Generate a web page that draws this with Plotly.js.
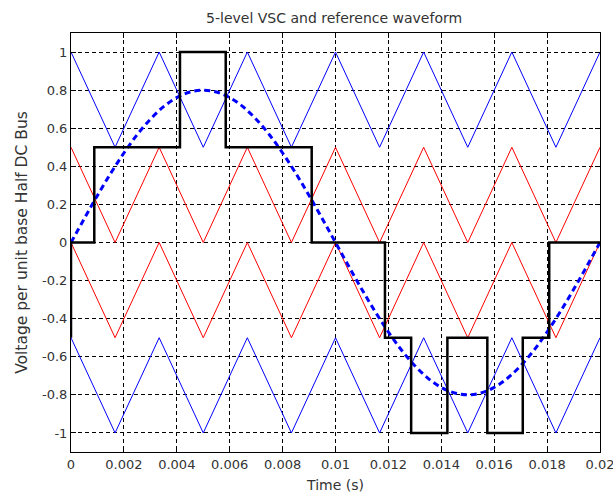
<!DOCTYPE html>
<html><head><meta charset="utf-8">
<script src="https://cdn.plot.ly/plotly-3.0.1.min.js"></script>
<style>html,body{margin:0;padding:0;background:#fff}#chart{width:613px;height:500px}</style>
</head><body><div id="chart"></div>
<script>
// Carrier vertex times (s)
const carrierT = [0, 0.001667, 0.003333, 0.005, 0.006667, 0.008333, 0.01, 0.011667, 0.013333, 0.015, 0.016667, 0.018333, 0.02];
const carrier1 = [1, 0.5, 1, 0.5, 1, 0.5, 1, 0.5, 1, 0.5, 1, 0.5, 1];
const carrier2 = [0.5, 0, 0.5, 0, 0.5, 0, 0.5, 0, 0.5, 0, 0.5, 0, 0.5];
const carrier3 = [0, -0.5, 0, -0.5, 0, -0.5, 0, -0.5, 0, -0.5, 0, -0.5, 0];
const carrier4 = [-0.5, -1, -0.5, -1, -0.5, -1, -0.5, -1, -0.5, -1, -0.5, -1, -0.5];
// Reference waveform samples
const refT = [0,0.0005,0.001,0.0015,0.002,0.0025,0.003,0.0035,0.004,0.0045,0.005,0.0055,0.006,0.0065,0.007,0.0075,0.008,0.0085,0.009,0.0095,0.01,
  0.0105,0.011,0.0115,0.012,0.0125,0.013,0.0135,0.014,0.0145,0.015,0.0155,0.016,0.0165,0.017,0.0175,0.018,0.0185,0.019,0.0195,0.02];
const refV = [0,0.125,0.247,0.363,0.470,0.566,0.647,0.713,0.761,0.790,0.8,0.790,0.761,0.713,0.647,0.566,0.470,0.363,0.247,0.125,0,
  -0.125,-0.247,-0.363,-0.470,-0.566,-0.647,-0.713,-0.761,-0.790,-0.8,-0.790,-0.761,-0.713,-0.647,-0.566,-0.470,-0.363,-0.247,-0.125,0];
// Converter output (step changes)
const outT = [0, 0, 0.00088, 0.00412, 0.00585, 0.0091, 0.01187, 0.01286, 0.01423, 0.01574, 0.01708, 0.01808, 0.02];
const outV = [-0.5, 0, 0.5, 1, 0.5, 0, -0.5, -1, -0.5, -1, -0.5, 0, 0];
const xTicks = [0,0.002,0.004,0.006,0.008,0.01,0.012,0.014,0.016,0.018,0.02];
const xLabels = ['0','0.002','0.004','0.006','0.008','0.01','0.012','0.014','0.016','0.018','0.02'];
const yTicks = [-1,-0.8,-0.6,-0.4,-0.2,0,0.2,0.4,0.6,0.8,1];
const yLabels = ['-1','-0.8','-0.6','-0.4','-0.2','0','0.2','0.4','0.6','0.8','1'];

const thin = (y, c) => ({x: carrierT, y: y, mode: 'lines', line: {color: c, width: 1}, hoverinfo: 'skip'});
const data = [
  thin(carrier1, '#0000ff'), thin(carrier2, '#ff0000'), thin(carrier3, '#ff0000'), thin(carrier4, '#0000ff'),
  {x: refT, y: refV, mode: 'lines', line: {color: '#0000ff', width: 3, dash: '6px,4px', shape: 'spline'}},
  {x: outT, y: outV, mode: 'lines', line: {color: '#000000', width: 2.5, shape: 'hv'}}
];
const fam = '"DejaVu Sans", sans-serif';
const fnt = {family: fam, size: 13, color: '#333'};
const axBase = {showline: true, linecolor: '#000', linewidth: 1, mirror: 'ticks', ticks: 'inside', ticklen: 5, tickcolor: '#000',
  showgrid: true, gridcolor: '#000', gridwidth: 1, griddash: '4px,3px', zeroline: false, tickfont: fnt, ticklabeloverflow: 'allow'};
const layout = {
  width: 613, height: 500, margin: {l: 71, r: 13, t: 33, b: 48},
  paper_bgcolor: '#fff', plot_bgcolor: '#fff', showlegend: false,
  title: {text: '5-level VSC and reference waveform', font: {family: fam, size: 14, color: '#333'}, x: 0.545, xanchor: 'center', yref: 'paper', y: 1, yanchor: 'bottom', pad: {b: 10}},
  xaxis: Object.assign({}, axBase, {range: [0, 0.02], tickvals: xTicks, ticktext: xLabels,
    title: {text: 'Time (s)', font: {family: fam, size: 14, color: '#333'}, standoff: 9}}),
  yaxis: Object.assign({}, axBase, {range: [-1.1, 1.1], tickvals: yTicks, ticktext: yLabels,
    title: {text: 'Voltage per unit base Half DC Bus', font: {family: fam, size: 15.5, color: '#333'}, standoff: 10}})
};
Plotly.newPlot('chart', data, layout, {displayModeBar: false, staticPlot: true});
</script></body></html>
